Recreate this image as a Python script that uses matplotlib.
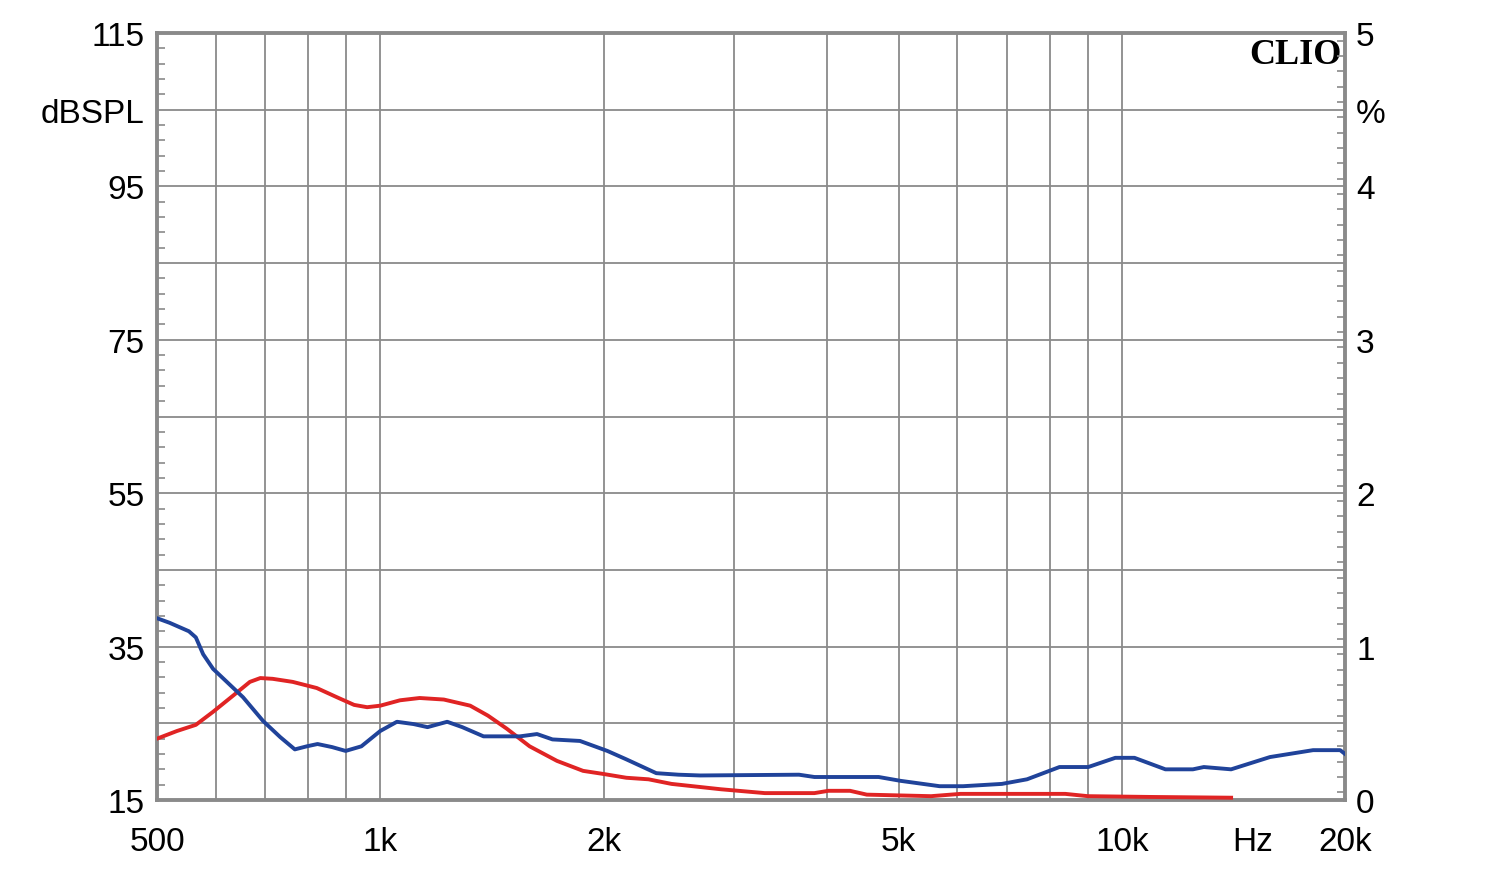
import numpy as np
import matplotlib
matplotlib.use("Agg")
import matplotlib.pyplot as plt
from matplotlib.ticker import FixedLocator, MultipleLocator

plt.rcParams['font.family'] = ['Liberation Sans', 'DejaVu Sans']

# frequency response (blue), dBSPL
blue_f = [500, 520, 552, 564, 577, 595, 621, 653, 695, 733, 767, 796, 823, 861,
          898, 943, 1000, 1053, 1109, 1158, 1231, 1290, 1378, 1543, 1627, 1707,
          1859, 2024, 2147, 2296, 2356, 2525, 2700, 3670, 3850, 4700, 5030,
          5680, 6110, 6890, 7450, 8240, 9010, 9800, 10400, 11450, 12470, 12900,
          14040, 15840, 18110, 19700, 20000]
blue_db = [38.7, 38.1, 37.0, 36.2, 34.0, 32.1, 30.4, 28.4, 25.3, 23.2, 21.6, 22.0,
           22.3, 21.9, 21.4, 22.0, 24.0, 25.2, 24.9, 24.5, 25.2, 24.5, 23.3, 23.3,
           23.6, 22.9, 22.7, 21.4, 20.3, 19.0, 18.5, 18.3, 18.2, 18.3, 18.0, 18.0,
           17.5, 16.8, 16.8, 17.1, 17.7, 19.3, 19.3, 20.5, 20.5, 19.0, 19.0, 19.3,
           19.0, 20.6, 21.5, 21.5, 21.0]

# distortion (red), drawn on the dB scale (1 % = 20 dB)
red_f = [500, 532, 564, 595, 633, 667, 689, 716, 762, 821, 874, 922, 960, 1000,
         1063, 1130, 1218, 1322, 1397, 1481, 1590, 1731, 1877, 1998, 2147, 2300,
         2470, 2880, 3300, 3850, 4020, 4300, 4530, 5530, 6060, 8390, 9000,
         10900, 14040]
red_db = [23.0, 24.0, 24.8, 26.5, 28.6, 30.4, 30.9, 30.8, 30.4, 29.6, 28.4, 27.4,
          27.1, 27.3, 28.0, 28.3, 28.1, 27.3, 26.0, 24.3, 22.0, 20.1, 18.8, 18.4,
          17.9, 17.7, 17.1, 16.4, 15.9, 15.9, 16.2, 16.2, 15.7, 15.5, 15.8, 15.8,
          15.5, 15.4, 15.3]

x_grid = [500, 600, 700, 800, 900, 1000, 2000, 3000, 4000, 5000, 6000, 7000,
          8000, 9000, 10000, 15000, 20000]
x_labels = ['500', '', '', '', '', '1k', '2k', '', '', '5k', '', '', '', '', '10k',
            'Hz', '20k']
y_grid = [15, 25, 35, 45, 55, 65, 75, 85, 95, 105, 115]
y_labels = ['15', '', '35', '', '55', '', '75', '', '95', 'dBSPL', '115']
r_ticks = [0, 1, 2, 3, 4, 4.5, 5]
r_labels = ['0', '1', '2', '3', '4', '%', '5']

gray = '#8a8a8a'
fig = plt.figure(figsize=(15, 8.7), dpi=100)
ax = fig.add_axes([0.1047, 0.0793, 0.792, 0.8816])

ax.plot(red_f, red_db, color='#e02424', lw=2.8, zorder=3, solid_joinstyle='round')
ax.plot(blue_f, blue_db, color='#20439a', lw=2.8, zorder=4, solid_joinstyle='round')

ax.set_xscale('log')
ax.set_xlim(500, 20000)
ax.set_ylim(15, 115)
ax.xaxis.set_major_locator(FixedLocator(x_grid))
ax.xaxis.set_minor_locator(FixedLocator([]))
ax.set_xticklabels(x_labels)
ax.set_yticks(y_grid)
ax.set_yticklabels(y_labels)
ax.yaxis.set_minor_locator(MultipleLocator(2, offset=1))
ax.grid(True, which='major', color=gray, lw=1.3)
# the "Hz" unit label sits where no grid line is drawn
ax.get_xgridlines()[x_labels.index('Hz')].set_visible(False)
ax.tick_params(which='major', length=0, labelsize=24, pad=9)
ax.tick_params(axis='x', pad=19)
ax.tick_params(axis='y', which='minor', direction='in', length=6, width=1.2,
               color=gray, left=True)
for s in ax.spines.values():
    s.set_color(gray)
    s.set_linewidth(2.8)

ax2 = ax.twinx()
ax2.set_ylim(0, 5)
ax2.set_yticks(r_ticks)
ax2.set_yticklabels(r_labels)
ax2.yaxis.set_minor_locator(MultipleLocator(0.1, offset=0.05))
ax2.tick_params(which='major', length=0, labelsize=24, pad=8)
ax2.tick_params(which='minor', direction='in', length=6, width=1.2, color=gray)
for s in ax2.spines.values():
    s.set_visible(False)

ax.text(0.997, 0.994, 'CLIO', transform=ax.transAxes, ha='right', va='top',
        fontsize=26, fontweight='bold', family=['Liberation Serif', 'DejaVu Serif'])

fig.savefig('out.png', dpi=100)
